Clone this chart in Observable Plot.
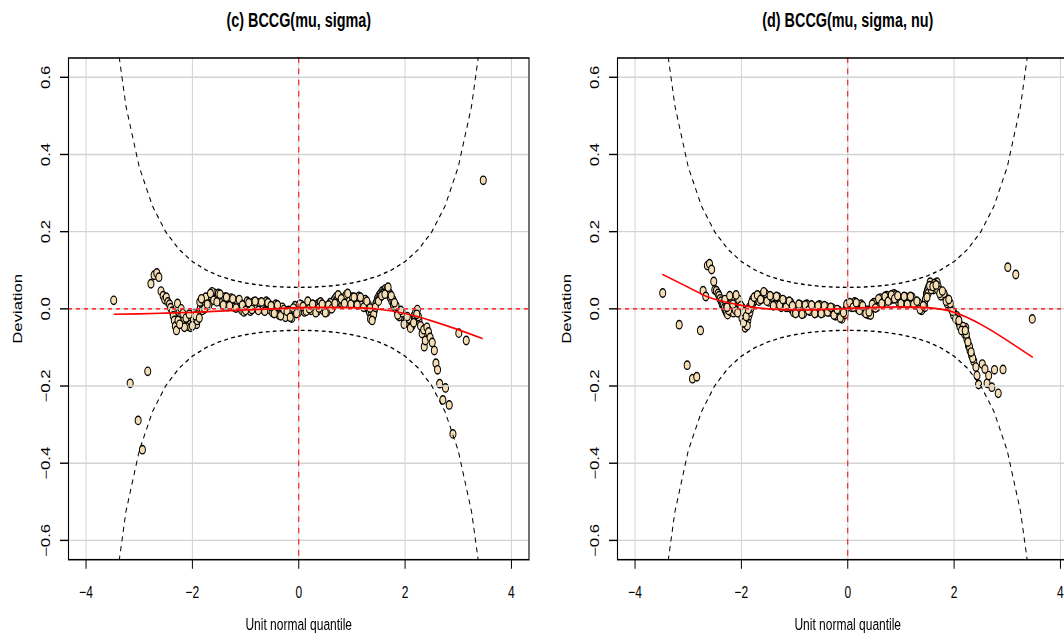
<!DOCTYPE html>
<html><head><meta charset="utf-8">
<script src="https://cdn.jsdelivr.net/npm/d3@7"></script>
<script src="https://cdn.jsdelivr.net/npm/@observablehq/plot@0.6"></script>
<style>
html,body{margin:0;padding:0;background:#fff;overflow:hidden}
#wrap{position:relative;width:1064px;height:636px;overflow:hidden;background:#fff}
.panel{position:absolute;top:0;width:549px;transform-origin:0 0;transform:scaleY(1.4)}
.panel svg{max-width:none !important;display:block}
</style></head><body><div id="wrap"></div>
<script>
const titles = ["(c) BCCG(mu, sigma)", "(d) BCCG(mu, sigma, nu)"];
const xLabel = "Unit normal quantile";
const yLabel = "Deviation";
const xTicks = [-4, -2, 0, 2, 4];
const xTickLabels = ["−4", "−2", "0", "2", "4"];
const yTicks = [-0.6, -0.4, -0.2, 0, 0.2, 0.4, 0.6];
const yTickLabels = ["−0.6", "−0.4", "−0.2", "0.0", "0.2", "0.4", "0.6"];

// 95% band (upper side; lower side is its mirror)
const bandZ = [-3.5,-3.25,-3,-2.75,-2.5,-2.25,-2,-1.75,-1.5,-1.25,-1,-0.75,-0.5,-0.25,0,0.25,0.5,0.75,1,1.25,1.5,1.75,2,2.25,2.5,2.75,3,3.25,3.5];
const bandHigh = [0.776,0.5255,0.3678,0.2661,0.199,0.1537,0.1226,0.1009,0.0856,0.0747,0.067,0.0617,0.0582,0.0563,0.0556,0.0563,0.0582,0.0617,0.067,0.0747,0.0856,0.1009,0.1226,0.1537,0.199,0.2661,0.3678,0.5255,0.776];

// fitted curves
const fitZc = [-3.47,-3,-2.5,-2,-1.5,-1,-0.5,0,0.5,1,1.5,2,2.5,3,3.45];
const fitDevC = [-0.014,-0.013,-0.011,-0.009,-0.006,-0.003,0,0.003,0.004,0.003,-0.001,-0.012,-0.031,-0.054,-0.077];
const fitZd = [-3.48,-3,-2.75,-2.5,-2,-1.5,-1,-0.5,0,0.5,1,1.5,2,2.5,3,3.47];
const fitDevD = [0.089,0.056,0.038,0.025,0.009,0.0,-0.003,-0.002,0.001,0.004,0.005,0.003,-0.009,-0.04,-0.082,-0.125];

// worm points [unit normal quantile, deviation]
const wormC = [[-3.48,0.022],[-3.17,-0.193],[-3.02,-0.289],[-2.94,-0.365],[-2.84,-0.162],
[-2.78,0.065],[-2.72,0.087],[-2.67,0.093],[-2.63,0.082],[-2.59,0.046],[-2.55,0.034],[-2.52,0.024],[-2.49,0.030],[-2.46,0.018],[-2.43,0.012],[-2.41,0.003],[-2.38,-0.006],[-2.36,-0.018],[-2.34,-0.030],[-2.32,-0.045],[-2.30,-0.056],[-2.28,0.014],[-2.25,-0.010],[-2.22,-0.020],[-2.19,-0.032],[-2.16,-0.026],[-2.13,-0.038],[-2.10,-0.042],[-2.07,-0.046],[-2.04,-0.030],[-2.01,-0.022],[-1.98,-0.028],[-1.95,-0.036],[-1.92,-0.040],[-1.90,-0.020],[-1.88,-0.008],[-1.85,0.002],[-1.82,0.012],[-1.79,0.016],[-1.76,0.008],[-1.73,0.022],[-1.70,0.026],[-1.67,0.018],[-1.64,0.032],[-1.61,0.036],[-1.58,0.040],[-1.55,0.034],[-1.52,0.026],[-1.49,0.020],[-1.46,0.030],[-1.43,0.028],[-1.40,0.018],[-1.37,0.012],[-1.34,0.020],[-1.31,0.024],[-1.28,0.016],[-1.25,0.010],[-1.22,0.018],[-1.19,0.014],[-1.16,0.006],[-1.13,0.010],[-1.10,0.002],[-1.07,-0.004],[-1.04,0.004],[-1.01,0.010],[-0.98,0.008],[-0.95,0.002],[-0.92,0.006],[-0.89,0.012],[-0.86,0.004],[-0.83,0.010],[-0.80,0.014],[-0.77,0.008],[-0.74,0.002],[-0.71,0.006],[-0.68,0.010],[-0.65,0.004],[-0.62,0.012],[-0.59,0.008],[-0.56,0.000],[-0.53,-0.004],[-0.50,0.002],[-0.47,0.006],[-0.44,0.000],[-0.41,-0.004],[-0.38,-0.008],[-0.35,-0.002],[-0.32,-0.010],[-0.29,-0.014],[-0.26,-0.008],[-0.23,-0.016],[-0.20,-0.018],[-0.17,-0.012],[-0.14,-0.016],[-0.11,-0.008],[-0.08,-0.004],[-0.05,0.002],[-0.02,-0.002],[0.01,0.004],[0.04,0.000],[0.07,-0.004],[0.10,0.002],[0.13,0.006],[0.16,0.010],[0.19,0.012],[0.22,0.008],[0.25,0.002],[0.28,-0.002],[0.31,0.000],[0.34,0.006],[0.37,0.014],[0.40,0.008],[0.43,0.002],[0.46,-0.004],[0.49,0.000],[0.52,0.004],[0.55,-0.002],[0.58,0.006],[0.61,0.012],[0.64,0.018],[0.67,0.024],[0.70,0.030],[0.73,0.026],[0.76,0.020],[0.79,0.016],[0.82,0.022],[0.85,0.028],[0.88,0.024],[0.91,0.030],[0.94,0.034],[0.97,0.026],[1.00,0.020],[1.03,0.016],[1.06,0.024],[1.09,0.028],[1.12,0.022],[1.15,0.018],[1.18,0.024],[1.21,0.020],[1.24,0.014],[1.27,0.008],[1.30,0.000],[1.33,-0.008],[1.36,-0.016],[1.39,-0.022],[1.42,-0.004],[1.45,0.014],[1.48,0.026],[1.51,0.034],[1.54,0.040],[1.57,0.046],[1.60,0.048],[1.63,0.052],[1.66,0.050],[1.69,0.042],[1.72,0.030],[1.75,0.020],[1.78,0.010],[1.81,0.004],[1.84,-0.002],[1.87,-0.008],[1.90,-0.012],[1.93,-0.016],[1.96,-0.020],[1.99,-0.026],[2.02,-0.030],[2.05,-0.034],[2.08,-0.036],[2.11,-0.040],[2.14,-0.030],[2.17,-0.018],[2.20,-0.008],[2.23,-0.002],[2.26,-0.030],[2.29,-0.044],[2.32,-0.064],[2.35,-0.054],[2.36,-0.098],[2.38,-0.082],[2.41,-0.048],[2.44,-0.060],[2.47,-0.074],[2.51,-0.087],[2.55,-0.108],[2.58,-0.141],[2.61,-0.158],[2.65,-0.194],[2.71,-0.236],[2.76,-0.205],[2.83,-0.249],[2.90,-0.324],[3.01,-0.063],[3.15,-0.082],[3.47,0.333]];
const wormC2 = [[-2.27,-0.030],[-2.21,0.000],[-2.15,-0.048],[-2.09,-0.022],[-2.03,-0.048],[-1.97,-0.012],[-1.91,-0.030],[-1.86,0.018],[-1.81,-0.004],[-1.75,0.030],[-1.69,0.010],[-1.63,0.044],[-1.57,0.024],[-1.51,0.040],[-1.45,0.016],[-1.39,0.030],[-1.33,0.006],[-1.27,0.028],[-1.21,0.004],[-1.15,0.020],[-1.09,0.014],[-1.03,-0.008],[-0.97,0.020],[-0.91,-0.006],[-0.85,0.018],[-0.79,0.000],[-0.73,0.016],[-0.67,-0.002],[-0.61,0.020],[-0.55,0.010],[-0.49,-0.010],[-0.43,0.012],[-0.37,-0.016],[-0.31,0.004],[-0.25,-0.022],[-0.19,-0.004],[-0.13,-0.024],[-0.07,0.008],[-0.01,-0.010],[0.05,0.010],[0.11,-0.008],[0.17,0.020],[0.23,-0.004],[0.29,0.010],[0.35,-0.006],[0.41,0.018],[0.47,0.008],[0.53,-0.008],[0.59,0.016],[0.65,0.006],[0.71,0.020],[0.77,0.030],[0.83,0.012],[0.89,0.036],[0.95,0.020],[1.01,0.030],[1.07,0.014],[1.13,0.032],[1.19,0.012],[1.25,0.024],[1.31,0.010],[1.35,-0.026],[1.41,-0.014],[1.47,0.018],[1.53,0.030],[1.59,0.040],[1.65,0.040],[1.71,0.040],[1.77,0.024],[1.83,0.008],[1.89,-0.020],[1.95,-0.010],[2.01,-0.036],[2.07,-0.026],[2.13,-0.044],[2.19,-0.026],[2.25,-0.020]];
const wormC3 = [[-2.24,-0.040],[-2.18,-0.012],[-2.12,-0.024],[-2.06,-0.014],[-2.00,-0.044],[-1.94,-0.018],[-1.87,-0.024],[-1.83,0.026],[-1.77,0.000],[-1.72,0.012],[-1.66,0.040],[-1.60,0.022],[-1.54,0.018],[-1.48,0.038],[-1.42,0.010],[-1.36,0.030],[-1.30,0.008],[-1.24,0.026],[-1.18,0.002],[-1.12,0.024],[-1.06,0.010],[-1.00,-0.004],[-0.94,0.016],[-0.88,-0.002],[-0.82,0.020],[-0.76,-0.004],[-0.70,0.018],[-0.64,-0.006],[-0.58,0.016],[-0.52,0.008],[-0.46,-0.012],[-0.40,0.010],[-0.34,-0.018],[-0.28,-0.002],[-0.22,-0.006],[-0.16,-0.022],[-0.10,0.002],[-0.04,-0.012],[0.02,0.012],[0.08,0.006],[0.14,-0.006],[0.20,0.000],[0.26,0.012],[0.32,-0.010],[0.38,0.002],[0.44,0.012],[0.50,-0.010],[0.56,0.010],[0.62,0.000],[0.68,0.014],[0.74,0.036],[0.80,0.026],[0.86,0.014],[0.92,0.040],[0.98,0.012],[1.04,0.030],[1.10,0.010],[1.16,0.030],[1.22,0.004],[1.28,0.020],[1.34,0.002],[1.38,-0.030],[1.44,0.004],[1.50,0.020],[1.56,0.034],[1.62,0.038],[1.68,0.056],[1.74,0.034],[1.80,0.016],[1.86,-0.016],[1.92,-0.004],[1.98,-0.040],[2.04,-0.020],[2.10,-0.050],[2.16,-0.036],[2.22,-0.014]];

const wormD = [[-3.48,0.041],[-3.17,-0.041],[-3.02,-0.146],[-2.92,-0.181],[-2.84,-0.176],[-2.77,-0.056],[-2.72,0.047],[-2.67,0.032],[-2.64,0.112],[-2.60,0.117],[-2.56,0.102],[-2.52,0.071],[-2.50,0.049],[-2.47,0.047],[-2.44,0.040],[-2.42,0.034],[-2.40,0.026],[-2.38,0.020],[-2.36,0.012],[-2.34,0.009],[-2.32,0.002],[-2.30,-0.004],[-2.28,-0.010],[-2.26,-0.015],[-2.25,0.018],[-2.23,0.026],[-2.21,-0.006],[-2.20,0.014],[-2.17,0.004],[-2.15,-0.010],[-2.14,0.020],[-2.12,0.030],[-2.09,0.009],[-2.08,0.022],[-2.06,0.000],[-2.04,0.014],[-2.03,-0.004],[-2.00,-0.012],[-1.98,0.002],[-1.97,-0.017],[-1.94,-0.028],[-1.93,-0.049],[-1.92,-0.039],[-1.90,-0.034],[-1.88,-0.030],[-1.86,-0.018],[-1.84,-0.009],[-1.82,0.002],[-1.80,0.009],[-1.77,0.018],[-1.74,0.022],[-1.71,0.026],[-1.68,0.028],[-1.65,0.032],[-1.62,0.036],[-1.59,0.037],[-1.56,0.033],[-1.53,0.030],[-1.50,0.028],[-1.47,0.024],[-1.44,0.020],[-1.41,0.017],[-1.38,0.019],[-1.35,0.022],[-1.32,0.024],[-1.29,0.020],[-1.26,0.014],[-1.23,0.010],[-1.20,0.009],[-1.17,0.012],[-1.14,0.015],[-1.11,0.013],[-1.08,0.006],[-1.05,-0.002],[-1.02,-0.009],[-0.99,-0.004],[-0.96,0.002],[-0.93,0.004],[-0.90,0.000],[-0.87,-0.004],[-0.84,-0.006],[-0.81,-0.002],[-0.78,0.004],[-0.75,0.009],[-0.72,0.006],[-0.69,0.000],[-0.66,-0.004],[-0.63,-0.006],[-0.60,-0.002],[-0.57,0.002],[-0.54,0.004],[-0.51,0.000],[-0.48,-0.004],[-0.45,-0.004],[-0.42,-0.002],[-0.39,0.000],[-0.36,0.000],[-0.33,-0.004],[-0.30,-0.008],[-0.27,-0.009],[-0.24,-0.010],[-0.21,-0.012],[-0.18,-0.013],[-0.15,-0.016],[-0.12,-0.020],[-0.09,-0.018],[-0.06,-0.008],[-0.03,0.000],[0.00,0.006],[0.03,0.010],[0.06,0.012],[0.09,0.013],[0.12,0.010],[0.15,0.006],[0.18,0.009],[0.21,0.008],[0.24,0.004],[0.27,0.000],[0.30,0.000],[0.33,-0.006],[0.36,-0.012],[0.39,-0.015],[0.42,-0.008],[0.45,0.002],[0.48,0.009],[0.51,0.010],[0.54,0.014],[0.57,0.017],[0.60,0.020],[0.63,0.024],[0.66,0.026],[0.69,0.022],[0.72,0.026],[0.75,0.030],[0.78,0.032],[0.81,0.030],[0.84,0.034],[0.87,0.039],[0.90,0.036],[0.93,0.026],[0.96,0.017],[0.99,0.022],[1.02,0.026],[1.05,0.026],[1.08,0.022],[1.11,0.020],[1.14,0.022],[1.17,0.024],[1.20,0.026],[1.23,0.022],[1.26,0.018],[1.29,0.014],[1.32,0.009],[1.35,0.006],[1.38,0.002],[1.41,0.000],[1.44,0.012],[1.46,0.024],[1.48,0.039],[1.50,0.048],[1.52,0.056],[1.55,0.069],[1.58,0.060],[1.61,0.050],[1.64,0.058],[1.68,0.069],[1.70,0.058],[1.72,0.047],[1.75,0.042],[1.77,0.039],[1.80,0.034],[1.84,0.030],[1.87,0.022],[1.89,0.017],[1.91,0.010],[1.93,0.004],[1.96,-0.002],[1.99,-0.009],[2.02,-0.018],[2.05,-0.026],[2.08,-0.033],[2.10,-0.039],[2.13,-0.046],[2.15,-0.052],[2.18,-0.058],[2.20,-0.065],[2.22,-0.049],[2.24,-0.078],[2.27,-0.095],[2.30,-0.108],[2.33,-0.121],[2.37,-0.136],[2.41,-0.151],[2.43,-0.173],[2.46,-0.196],[2.53,-0.143],[2.58,-0.156],[2.62,-0.193],[2.65,-0.173],[2.71,-0.203],[2.76,-0.158],[2.83,-0.219],[2.92,-0.157],[3.01,0.108],[3.16,0.089],[3.47,-0.026]];
const wormD2 = [[-2.29,0.016],[-2.24,-0.004],[-2.18,0.024],[-2.11,-0.004],[-2.05,0.024],[-1.99,-0.024],[-1.95,-0.008],[-1.89,-0.044],[-1.85,0.004],[-1.79,0.024],[-1.73,0.032],[-1.67,0.020],[-1.61,0.026],[-1.55,0.040],[-1.49,0.018],[-1.43,0.030],[-1.37,0.010],[-1.31,0.030],[-1.25,0.004],[-1.19,0.020],[-1.13,0.004],[-1.07,0.016],[-1.01,0.004],[-0.95,-0.008],[-0.89,0.010],[-0.83,-0.012],[-0.77,0.012],[-0.71,-0.006],[-0.65,0.006],[-0.59,-0.010],[-0.53,0.010],[-0.47,-0.010],[-0.41,0.006],[-0.35,-0.008],[-0.29,0.002],[-0.23,-0.018],[-0.17,-0.004],[-0.11,-0.026],[-0.05,-0.014],[0.01,0.014],[0.07,0.004],[0.13,0.018],[0.19,0.000],[0.25,0.012],[0.31,-0.008],[0.37,-0.004],[0.43,-0.016],[0.49,0.016],[0.55,0.004],[0.61,0.028],[0.67,0.016],[0.73,0.034],[0.79,0.022],[0.85,0.026],[0.91,0.028],[0.97,0.026],[1.03,0.016],[1.09,0.030],[1.15,0.014],[1.21,0.030],[1.27,0.010],[1.33,0.016],[1.39,-0.004],[1.45,0.004],[1.51,0.040],[1.57,0.050],[1.63,0.066],[1.69,0.050],[1.75,0.034],[1.81,0.040],[1.87,0.014],[1.93,0.014],[1.99,-0.016],[2.05,-0.018],[2.11,-0.046],[2.17,-0.046],[2.23,-0.066],[2.29,-0.098],[2.35,-0.128]];
const wormD3 = [[-2.31,0.024],[-2.27,0.004],[-2.22,0.034],[-2.16,0.012],[-2.10,0.036],[-2.07,-0.010],[-2.01,0.008],[-1.96,-0.036],[-1.91,-0.020],[-1.87,-0.002],[-1.81,0.016],[-1.76,0.030],[-1.70,0.036],[-1.64,0.024],[-1.58,0.044],[-1.52,0.020],[-1.46,0.034],[-1.40,0.008],[-1.34,0.032],[-1.28,0.010],[-1.22,0.024],[-1.16,0.004],[-1.10,0.020],[-1.04,0.008],[-0.98,-0.012],[-0.92,0.012],[-0.86,-0.014],[-0.80,0.010],[-0.74,-0.004],[-0.68,0.010],[-0.62,-0.012],[-0.56,0.008],[-0.50,-0.012],[-0.44,0.008],[-0.38,-0.008],[-0.32,0.004],[-0.26,-0.016],[-0.20,-0.002],[-0.14,-0.024],[-0.08,-0.010],[-0.02,0.012],[0.04,0.016],[0.10,0.004],[0.16,0.016],[0.22,-0.004],[0.28,0.008],[0.34,-0.012],[0.40,-0.008],[0.46,0.012],[0.52,0.002],[0.58,0.026],[0.64,0.014],[0.70,0.032],[0.76,0.020],[0.82,0.036],[0.88,0.026],[0.94,0.034],[1.00,0.014],[1.06,0.032],[1.12,0.012],[1.18,0.032],[1.24,0.012],[1.30,0.020],[1.36,-0.002],[1.42,0.008],[1.49,0.030],[1.54,0.060],[1.60,0.058],[1.66,0.062],[1.73,0.040],[1.78,0.046],[1.85,0.020],[1.90,0.024],[1.97,-0.006],[2.03,-0.026],[2.09,-0.030],[2.14,-0.056],[2.21,-0.056],[2.26,-0.086],[2.32,-0.112]];

const K = 1.4;               // vertical stretch of the reference image
const H = 636 / K;
const frameTop = 57.3 / K, frameBottom = 559 / K;

function panel(worm, fitZ, fitDev, title) {
  const pts = worm.map(([z, dev]) => ({z, dev}));
  const band = bandZ.map((z, i) => ({z, hi: bandHigh[i]}));
  const fit = fitZ.map((z, i) => ({z, dev: fitDev[i]}));
  return Plot.plot({
    width: 549, height: H,
    marginLeft: 68, marginRight: 20.5,
    marginTop: frameTop, marginBottom: H - frameBottom,
    x: {domain: [-4.33, 4.33], axis: null},
    y: {domain: [-0.65, 0.65], axis: null},
    style: {fontFamily: "'Liberation Sans', Arial, Helvetica, sans-serif", fontSize: "12px", background: "white", overflow: "visible", color: "black", maxWidth: "none"},
    marks: [
      Plot.dot(pts, {x: "z", y: "dev", r: 3, fill: "#F5DEB3", stroke: "black", strokeWidth: 1}),
      Plot.gridX(xTicks, {stroke: "#D3D3D3", strokeOpacity: 1, strokeWidth: 1}),
      Plot.gridY(yTicks, {stroke: "#D3D3D3", strokeOpacity: 1, strokeWidth: 1}),
      Plot.ruleY([0], {stroke: "red", strokeDasharray: "4,4"}),
      Plot.ruleX([0], {stroke: "red", strokeDasharray: "4,4"}),
      Plot.line(band, {x: "z", y: "hi", stroke: "black", strokeDasharray: "3,4", strokeWidth: 1, clip: true}),
      Plot.line(band, {x: "z", y: d => -d.hi, stroke: "black", strokeDasharray: "3,4", strokeWidth: 1, clip: true}),
      Plot.line(fit, {x: "z", y: "dev", stroke: "red", strokeWidth: 1.2, curve: "natural"}),
      Plot.frame({stroke: "black", strokeWidth: 1.1}),
      Plot.axisX({ticks: xTicks, anchor: "bottom", tickSize: 7, tickPadding: 11.5, fontSize: 12, label: null,
        tickFormat: d => xTickLabels[xTicks.indexOf(d)]}),
      Plot.axisY({ticks: yTicks, anchor: "left", tickSize: 8, label: null, tickFormat: () => ""}),
      Plot.text(yTicks, {y: d => d, text: (d, i) => yTickLabels[i], frameAnchor: "left", dx: -22, rotate: -90, fontSize: 12, lineAnchor: "middle", textAnchor: "middle"}),
      Plot.text([title], {frameAnchor: "top", dy: -(57.3 - 20) / K, fontWeight: "bold", fontSize: 14.4, lineAnchor: "middle"}),
      Plot.text([xLabel], {frameAnchor: "bottom", dy: (624 - 559) / K, fontSize: 12, lineAnchor: "middle"}),
      Plot.text([yLabel], {frameAnchor: "left", dx: -(68 - 17.3), rotate: -90, fontSize: 12, lineAnchor: "middle", textAnchor: "middle"})
    ]
  });
}

const wrap = document.getElementById("wrap");
const defs = [[wormC.concat(wormC2, wormC3), fitZc, fitDevC, titles[0], 0], [wormD.concat(wormD2, wormD3), fitZd, fitDevD, titles[1], 549]];
for (const [w, fz, fd, t, left] of defs) {
  const div = document.createElement("div");
  div.className = "panel";
  div.style.left = left + "px";
  div.appendChild(panel(w, fz, fd, t));
  wrap.appendChild(div);
}
</script></body></html>
